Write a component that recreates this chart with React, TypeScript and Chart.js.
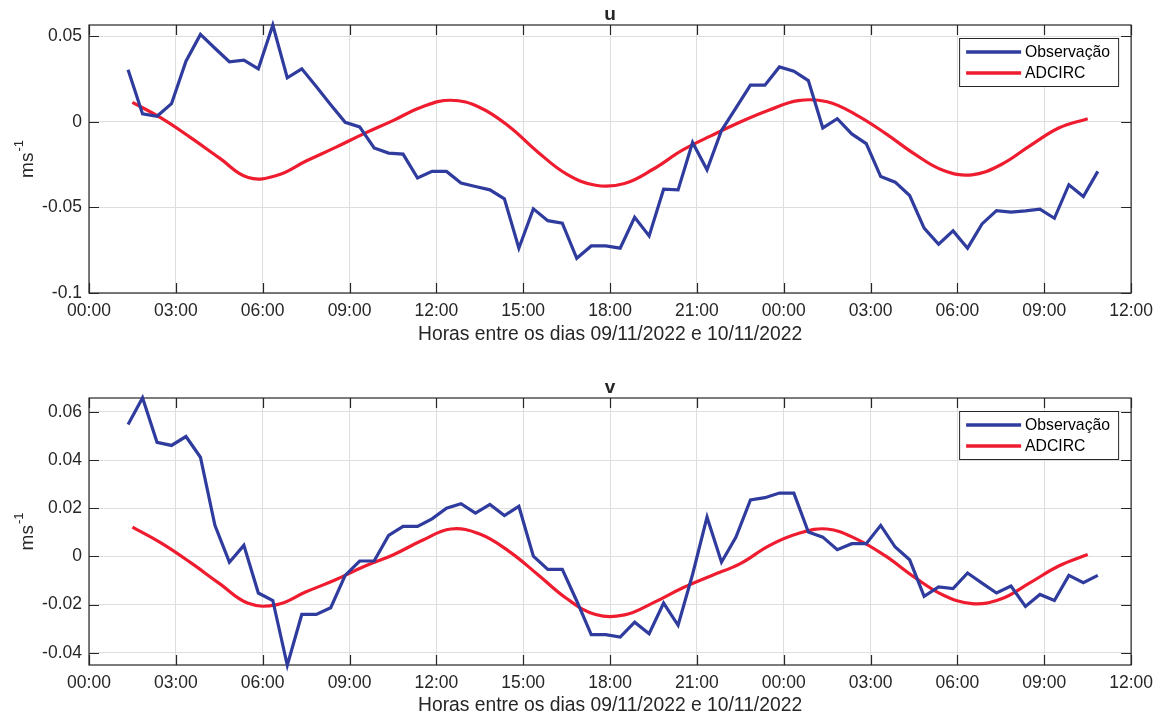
import React, { useEffect, useRef } from 'react';
import { Chart, registerables } from 'chart.js';

Chart.register(...registerables);

// ---------- data ----------
const obsHours = [
  1.35, 1.85, 2.35, 2.85, 3.35, 3.85, 4.35, 4.85, 5.35, 5.85,
  6.35, 6.85, 7.35, 7.85, 8.35, 8.85, 9.35, 9.85, 10.35, 10.85,
  11.35, 11.85, 12.35, 12.85, 13.35, 13.85, 14.35, 14.85, 15.35, 15.85,
  16.35, 16.85, 17.35, 17.85, 18.35, 18.85, 19.35, 19.85, 20.35, 20.85,
  21.35, 21.85, 22.35, 22.85, 23.35, 23.85, 24.35, 24.85, 25.35, 25.85,
  26.35, 26.85, 27.35, 27.85, 28.35, 28.85, 29.35, 29.85, 30.35, 30.85,
  31.35, 31.85, 32.35, 32.85, 33.35, 33.85, 34.35, 34.85,
];

const uObs = [
  0.0306, 0.0047, 0.0033, 0.0107, 0.0355, 0.0512, 0.0431, 0.0352, 0.0361, 0.0311,
  0.0567, 0.0258, 0.0311, 0.0207, 0.0101, -0.0002, -0.0029, -0.0152, -0.0182, -0.0188,
  -0.0328, -0.0289, -0.0289, -0.0357, -0.0377, -0.0397, -0.0449, -0.0738, -0.0508, -0.0577,
  -0.0592, -0.0797, -0.0725, -0.0725, -0.0738, -0.0557, -0.0666, -0.0393, -0.0397, -0.012,
  -0.028, -0.005, 0.0082, 0.0215, 0.0215, 0.0322, 0.0297, 0.0242, -0.0035, 0.0019,
  -0.007, -0.0127, -0.0319, -0.0352, -0.043, -0.0621, -0.0715, -0.0637, -0.0738, -0.0596,
  -0.0518, -0.0527, -0.052, -0.051, -0.0563, -0.0367, -0.0436, -0.0289,
];

const vObs = [
  0.0548, 0.0659, 0.0474, 0.0461, 0.0498, 0.0412, 0.0129, -0.0024, 0.0046, -0.0152,
  -0.0183, -0.0452, -0.0241, -0.0241, -0.0213, -0.0079, -0.0019, -0.0019, 0.0087, 0.0125,
  0.0125, 0.0156, 0.02, 0.0219, 0.018, 0.0216, 0.017, 0.0208, 0.0001, -0.0054,
  -0.0054, -0.0185, -0.0325, -0.0325, -0.0335, -0.0273, -0.0321, -0.0194, -0.0286, -0.0075,
  0.0163, -0.0024, 0.008, 0.0235, 0.0244, 0.0263, 0.0263, 0.0101, 0.008, 0.0028,
  0.0053, 0.0053, 0.0129, 0.0039, -0.0014, -0.0166, -0.0127, -0.0134, -0.0069, -0.0111,
  -0.0152, -0.0123, -0.0208, -0.0158, -0.0183, -0.0079, -0.0109, -0.0079,
];

const modelHours = [
  1.5, 2.5, 3.5, 4.5, 5.5, 6.5, 7.5, 8.5, 9.5, 10.5,
  11.5, 12.5, 13.5, 14.5, 15.5, 16.5, 17.5, 18.5, 19.5, 20.5,
  21.5, 22.5, 23.5, 24.5, 25.5, 26.5, 27.5, 28.5, 29.5, 30.5,
  31.5, 32.5, 33.5, 34.5,
];

const uModel = [
  0.0115, 0.0022, -0.009, -0.021, -0.0325, -0.0312, -0.0228, -0.015, -0.0068, 0.0008,
  0.0088, 0.0127, 0.0085, -0.0025, -0.0175, -0.0305, -0.037, -0.036, -0.0275, -0.0165,
  -0.008, 0.0, 0.007, 0.0125, 0.0118, 0.0042, -0.0065, -0.0185, -0.0282, -0.0309,
  -0.025, -0.014, -0.0035, 0.0019,
];

const vModel = [
  0.0122, 0.0055, -0.0025, -0.0112, -0.0195, -0.02, -0.0147, -0.0098, -0.0042, 0.0006,
  0.0066, 0.0114, 0.0093, 0.0022, -0.0075, -0.0175, -0.0241, -0.0243, -0.0192, -0.0131,
  -0.008, -0.003, 0.0045, 0.0095, 0.0114, 0.0073, 0.0003, -0.0085, -0.016, -0.0196,
  -0.0177, -0.011, -0.004, 0.0008,
];

const xTickVals = [0, 3, 6, 9, 12, 15, 18, 21, 24, 27, 30, 33, 36];
const xTickLabels = [
  '00:00', '03:00', '06:00', '09:00', '12:00', '15:00', '18:00',
  '21:00', '00:00', '03:00', '06:00', '09:00', '12:00',
];

const uTickVals = [-0.1, -0.05, 0, 0.05];
const uTickLabels = ['-0.1', '-0.05', '0', '0.05'];
const vTickVals = [-0.04, -0.02, 0, 0.02, 0.04, 0.06];
const vTickLabels = ['-0.04', '-0.02', '0', '0.02', '0.04', '0.06'];

const seriesNames = ['Observação', 'ADCIRC'];
const xTitle = 'Horas entre os dias 09/11/2022 e 10/11/2022';

// ---------- styling ----------
const FONT = '"Liberation Sans", Arial, Helvetica, sans-serif';
const TXT = '#262626';
const BLUE = '#2f3c9e';
const RED = '#ee1c2e';
const GRID = '#dedede';

const matlabPlugin = {
  id: 'matlabAxes',
  beforeDatasetsDraw(chart: any, _args: any, opts: any) {
    const { ctx, chartArea: a, scales } = chart;
    ctx.save();
    ctx.strokeStyle = TXT;
    ctx.lineWidth = 1.2;
    ctx.strokeRect(a.left, a.top, a.right - a.left, a.bottom - a.top);
    ctx.beginPath();
    for (const v of xTickVals) {
      const px = Math.round(scales.x.getPixelForValue(v)) + 0.5;
      ctx.moveTo(px, a.top);
      ctx.lineTo(px, a.top + 10);
      ctx.moveTo(px, a.bottom);
      ctx.lineTo(px, a.bottom - 10);
    }
    for (const v of opts.yTicks) {
      const py = Math.round(scales.y.getPixelForValue(v)) + 0.5;
      ctx.moveTo(a.left, py);
      ctx.lineTo(a.left + 10, py);
      ctx.moveTo(a.right, py);
      ctx.lineTo(a.right - 10, py);
    }
    ctx.stroke();
    ctx.restore();
  },
  afterDatasetsDraw(chart: any, _args: any, opts: any) {
    const { ctx, chartArea: a } = chart;
    ctx.save();
    // legend
    const bw = 159;
    const bh = 48;
    const bx = a.right - 13 - bw;
    const by = a.top + 13;
    ctx.fillStyle = '#ffffff';
    ctx.fillRect(bx, by, bw, bh);
    ctx.strokeStyle = TXT;
    ctx.lineWidth = 1;
    ctx.strokeRect(bx + 0.5, by + 0.5, bw, bh);
    const items = [
      { label: seriesNames[0], color: BLUE, y: by + 14 },
      { label: seriesNames[1], color: RED, y: by + 35 },
    ];
    for (const it of items) {
      ctx.strokeStyle = it.color;
      ctx.lineWidth = 3.4;
      ctx.beginPath();
      ctx.moveTo(bx + 7, it.y);
      ctx.lineTo(bx + 62, it.y);
      ctx.stroke();
      ctx.fillStyle = '#000000';
      ctx.font = `15.75px ${FONT}`;
      ctx.textAlign = 'left';
      ctx.textBaseline = 'middle';
      ctx.fillText(it.label, bx + 66, it.y + 0.5);
    }
    // title
    ctx.fillStyle = TXT;
    ctx.font = `bold 19px ${FONT}`;
    ctx.textAlign = 'center';
    ctx.textBaseline = 'alphabetic';
    ctx.fillText(opts.title, (a.left + a.right) / 2, a.top - 5.5);
    // y label with superscript
    ctx.translate(33, (a.top + a.bottom) / 2);
    ctx.rotate(-Math.PI / 2);
    ctx.font = `19px ${FONT}`;
    const w1 = ctx.measureText('ms').width;
    ctx.font = `13px ${FONT}`;
    const w2 = ctx.measureText('-1').width;
    const start = -(w1 + w2 + 1) / 2;
    ctx.textAlign = 'left';
    ctx.font = `19px ${FONT}`;
    ctx.fillText('ms', start, 0);
    ctx.font = `13px ${FONT}`;
    ctx.fillText('-1', start + w1 + 1, -10);
    ctx.restore();
  },
};

type Panel = {
  title: string;
  obs: number[];
  model: number[];
  yMin: number;
  yMax: number;
  yTicks: number[];
  yLabels: string[];
  xHeight: number;
  titlePad: number;
};

function buildConfig(p: Panel): any {
  return {
    type: 'line',
    data: {
      datasets: [
        {
          label: seriesNames[0],
          data: obsHours.map((h, i) => ({ x: h, y: p.obs[i] })),
          borderColor: BLUE,
          borderWidth: 3.2,
          pointRadius: 0,
          tension: 0,
          clip: false,
        },
        {
          label: seriesNames[1],
          data: modelHours.map((h, i) => ({ x: h, y: p.model[i] })),
          borderColor: RED,
          borderWidth: 3.2,
          pointRadius: 0,
          tension: 0.4,
          clip: false,
        },
      ],
    },
    options: {
      responsive: false,
      animation: false,
      events: [],
      layout: { padding: { left: 0, right: 29, top: 25, bottom: 0 } },
      plugins: {
        legend: { display: false },
        tooltip: { enabled: false },
        title: { display: false },
        matlabAxes: { title: p.title, yTicks: p.yTicks },
      },
      scales: {
        x: {
          type: 'linear',
          min: 0,
          max: 36,
          afterBuildTicks: (s: any) => {
            s.ticks = xTickVals.map((v) => ({ value: v }));
          },
          afterFit: (s: any) => {
            s.height = p.xHeight;
          },
          ticks: {
            autoSkip: false,
            maxRotation: 0,
            padding: 8,
            color: TXT,
            font: { family: FONT, size: 17.5 },
            callback: (v: number) => xTickLabels[xTickVals.indexOf(v)] ?? '',
          },
          grid: { color: GRID, lineWidth: 1, drawTicks: false },
          border: { display: false },
          title: {
            display: true,
            text: xTitle,
            color: TXT,
            font: { family: FONT, size: 19.3 },
            padding: { top: 0, bottom: p.titlePad },
          },
        },
        y: {
          type: 'linear',
          min: p.yMin,
          max: p.yMax,
          afterBuildTicks: (s: any) => {
            s.ticks = p.yTicks.map((v) => ({ value: v }));
          },
          afterFit: (s: any) => {
            s.width = 89;
          },
          ticks: {
            padding: 7,
            color: TXT,
            font: { family: FONT, size: 17.5 },
            callback: (v: number) => {
              const i = p.yTicks.findIndex((t) => Math.abs(t - v) < 1e-9);
              return i >= 0 ? p.yLabels[i] : '';
            },
          },
          grid: { color: GRID, lineWidth: 1, drawTicks: false },
          border: { display: false },
        },
      },
    },
    plugins: [matlabPlugin],
  };
}

function ChartPanel({ panel, top, height }: { panel: Panel; top: number; height: number }) {
  const ref = useRef<HTMLCanvasElement | null>(null);
  useEffect(() => {
    if (!ref.current) return;
    const chart = new Chart(ref.current, buildConfig(panel));
    return () => chart.destroy();
  }, [panel]);
  return (
    <canvas
      ref={ref}
      width={1161}
      height={height}
      style={{ position: 'absolute', left: 0, top, width: 1161, height }}
    />
  );
}

const uPanel: Panel = {
  title: 'u',
  obs: uObs,
  model: uModel,
  yMin: -0.1,
  yMax: 0.0567,
  yTicks: uTickVals,
  yLabels: uTickLabels,
  xHeight: 57,
  titlePad: 4,
};

const vPanel: Panel = {
  title: 'v',
  obs: vObs,
  model: vModel,
  yMin: -0.0451,
  yMax: 0.0658,
  yTicks: vTickVals,
  yLabels: vTickLabels,
  xHeight: 54,
  titlePad: 2,
};

export default function App() {
  return (
    <div
      style={{
        position: 'absolute',
        left: 0,
        top: 0,
        width: 1161,
        height: 719,
        background: '#ffffff',
        overflow: 'hidden',
      }}
    >
      <ChartPanel panel={uPanel} top={0} height={350} />
      <ChartPanel panel={vPanel} top={373} height={346} />
    </div>
  );
}
